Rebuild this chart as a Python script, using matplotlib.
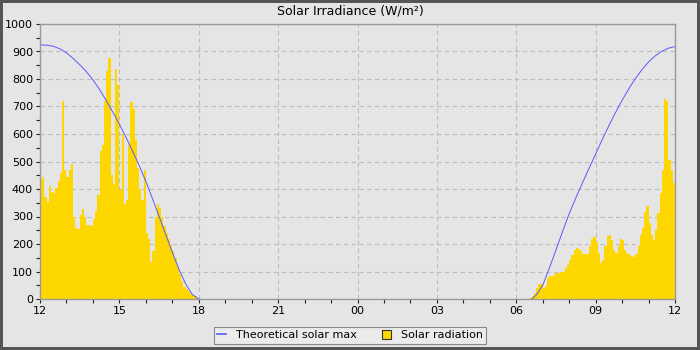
import matplotlib
matplotlib.use('Agg')
import matplotlib.pyplot as plt
from matplotlib.patches import Patch, Rectangle
from matplotlib.lines import Line2D
from matplotlib.ticker import MultipleLocator
import numpy as np

# x axis: hours after 12:00 (0..24)
tick_hours = [0, 3, 6, 9, 12, 15, 18, 21, 24]
tick_labels = ['12', '15', '18', '21', '00', '03', '06', '09', '12']

# solar radiation, 5 minute samples, afternoon from 12:00
pm_start = 0.0
pm_rad = [432, 445, 370, 352, 410, 390, 385, 405, 430, 460,
          720, 470, 445, 470, 490, 300, 260, 255, 305, 328,
          300, 268, 268, 265, 290, 320, 380, 540, 560, 720,
          830, 875, 450, 420, 835, 780, 395, 600, 346, 360,
          560, 715, 690, 580, 475, 400, 360, 470, 240, 220,
          135, 175, 300, 345, 330, 300, 265, 240, 220, 195,
          175, 150, 118, 90, 65, 45, 35, 28, 20, 15,
          10, 4, 0]

# solar radiation, 5 minute samples, morning from 06:30
am_start = 18.5
am_rad = [2, 10, 22, 40, 56, 56, 40, 48, 76, 85,
          85, 92, 94, 94, 97, 100, 113, 125, 143, 161,
          179, 185, 182, 173, 165, 165, 165, 191, 218, 225,
          209, 167, 131, 143, 191, 228, 234, 216, 179, 169,
          191, 218, 216, 177, 167, 161, 155, 153, 165, 194,
          234, 258, 318, 340, 276, 234, 213, 252, 312, 385,
          470, 728, 720, 506, 470, 421]

# theoretical maximum, read every quarter hour
pm_max_t = [0, 0.25, 0.5, 0.75, 1.0, 1.25, 1.5, 1.75, 2.0, 2.25, 2.5, 2.75,
            3.0, 3.25, 3.5, 3.75, 4.0, 4.25, 4.5, 4.75, 5.0, 5.25, 5.5, 5.75, 6.0]
pm_max = [924, 923, 919, 910, 895, 875, 852, 827, 797, 762, 722, 680,
          636, 588, 538, 485, 428, 365, 300, 235, 170, 108, 56, 17, 0]
am_max_t = [18.58, 18.75, 19.0, 19.25, 19.5, 19.75, 20.0, 20.25, 20.5, 20.75,
            21.0, 21.25, 21.5, 21.75, 22.0, 22.25, 22.5, 22.75, 23.0, 23.25,
            23.5, 23.75, 24.0]
am_max = [0, 14, 50, 112, 178, 245, 310, 367, 422, 475,
          527, 580, 630, 678, 722, 764, 801, 834, 862, 884,
          901, 912, 918]

bg = '#e5e5e5'
gold = '#ffd700'
blue = '#5a5aff'

fig = plt.figure(figsize=(7, 3.5), dpi=100, facecolor=bg)
ax = fig.add_axes([40 / 700, 51 / 350, 635 / 700, 275 / 350])
ax.set_facecolor(bg)

step = 1 / 12
pm_t = pm_start + np.arange(len(pm_rad)) * step
am_t = am_start + np.arange(len(am_rad) + 1) * step
ax.fill_between(pm_t, pm_rad, step='post', color=gold, linewidth=0, zorder=2)
ax.fill_between(am_t, am_rad + [am_rad[-1]], step='post', color=gold, linewidth=0, zorder=2)

ax.plot(pm_max_t, pm_max, color=blue, linewidth=0.7, zorder=3)
ax.plot(am_max_t, am_max, color=blue, linewidth=0.7, zorder=3)

ax.set_xlim(0, 24)
ax.set_ylim(0, 1000)
ax.set_xticks(tick_hours)
ax.set_xticklabels(tick_labels)
ax.xaxis.set_minor_locator(MultipleLocator(1))
ax.yaxis.set_major_locator(MultipleLocator(100))
ax.yaxis.set_minor_locator(MultipleLocator(50))
ax.tick_params(which='both', direction='out', length=3, width=0.8, color='#222222',
               labelsize=8, pad=2)
ax.grid(True, which='major', linestyle=(0, (4, 3)), color='#bdbdbd', linewidth=0.8, zorder=1)
ax.set_axisbelow(True)
for s in ax.spines.values():
    s.set_color('#9a9a9a')
    s.set_linewidth(1)
    s.set_zorder(4)

fig.text(0.5, 1 - 11 / 350, 'Solar Irradiance (W/m²)', ha='center', va='center', fontsize=9)

handles = [Line2D([0], [0], color=blue, linewidth=1.2),
           Patch(facecolor=gold, edgecolor='#333333', linewidth=0.8)]
leg = fig.legend(handles, ['Theoretical solar max', 'Solar radiation'], ncol=2,
                 loc='upper center', bbox_to_anchor=(0.5, 23.5 / 350), fontsize=8,
                 fancybox=False, framealpha=1, facecolor='#ebebeb', edgecolor='#888888',
                 handlelength=0.8, handleheight=0.8, columnspacing=2.2,
                 borderpad=0.35, handletextpad=0.9, borderaxespad=0)
leg.get_frame().set_linewidth(0.8)

fig.patches.append(Rectangle((0, 0), 1, 1, transform=fig.transFigure, fill=False,
                             edgecolor='#555555', linewidth=4.3, zorder=10))

fig.savefig('out.png', dpi=100, facecolor=bg)
